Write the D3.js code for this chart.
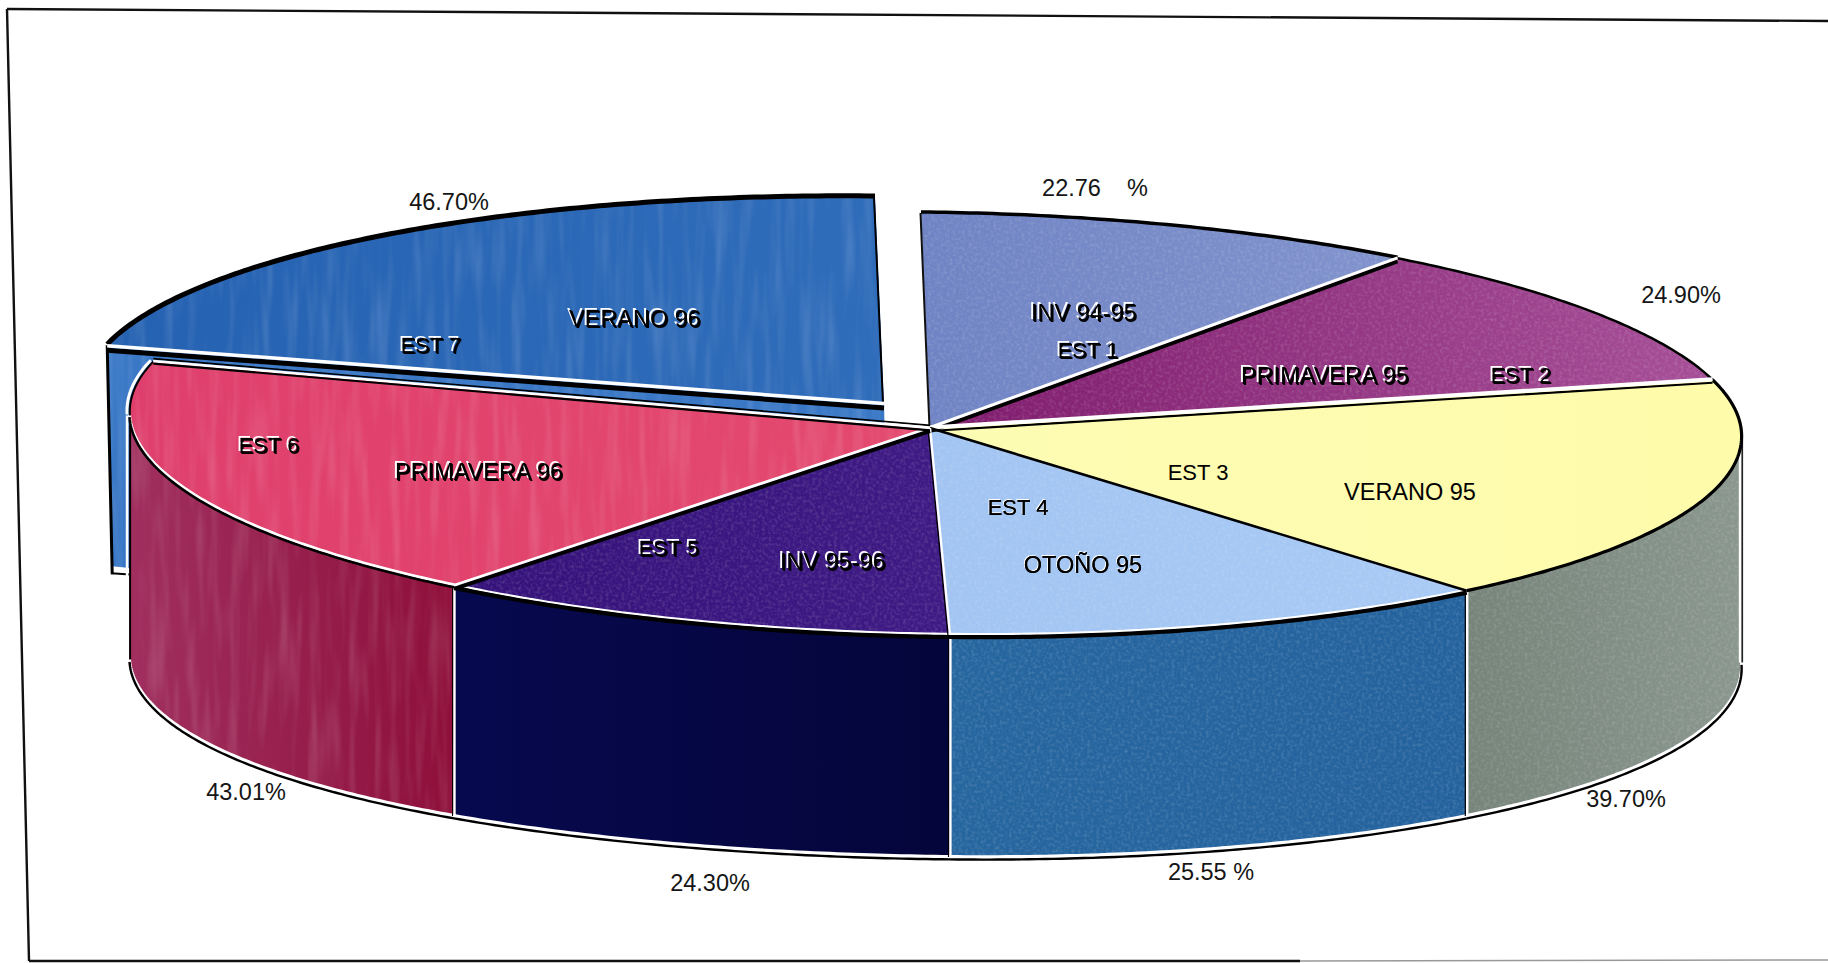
<!DOCTYPE html>
<html><head><meta charset="utf-8">
<script src="https://d3js.org/d3.v7.min.js"></script>
<style>
html,body{margin:0;padding:0;background:#fff;overflow:hidden}
svg{display:block}
text{font-family:"Liberation Sans",Arial,sans-serif}
</style></head><body>
<svg id="c" width="1828" height="963"></svg>
<script>
// ---------- data ----------
const seasons   = ["INV 94-95","PRIMAVERA 95","VERANO 95","OTOÑO 95","INV 95-96","PRIMAVERA 96","VERANO 96"];
const stations  = ["EST 1","EST 2","EST 3","EST 4","EST 5","EST 6","EST 7"];
const percents  = [22.76,24.90,39.70,25.55,24.30,43.01,46.70];
const percentLabels = ["22.76\u00A0\u00A0\u00A0\u00A0%","24.90%","39.70%","25.55 %","24.30%","43.01%","46.70%"];
// slice sizes as drawn in the reference (degrees of the ellipse)
const sliceSizes = [36,39.6,64.2,40.2,37.7,67.3,75];
const faceStart = ["#6f83c4","#7f1a6c","#fdfcb4","#a1c4f2","#34127a","#df3f6c","#2562b2"];
const faceEnd   = ["#8193cd","#a64f98","#fefbaa","#a8caf5","#3e1a84","#e4496f","#2f6cba"];
const wallStart = [null,null,"#76847a","#26669f","#07094f","#a02f5f","#3a78c6"];
const wallEnd   = [null,null,"#8a978f","#24629e","#04053a","#8e0f3a","#3a78c6"];
// label centres, in page pixels
const seasonPos  = [[1083,312],[1324,375],[1410,492],[1083,565],[832,561],[478,471],[634,318]];
const stationPos = [[1087,349],[1520,374],[1198,472],[1018,507],[668,547],[268,444],[430,344]];
const percentPos = [[1095,188],[1681,295],[1626,799],[1211,872],[710,883],[246,792],[449,202]];
const labelInk = ["emboss","emboss","plain","soft","emboss","emboss","emboss"];

// ---------- geometry ----------
const svg = d3.select("#c");
const defs = svg.append("defs");
const apex = [930,428];
const x = d3.scaleLinear().domain([-1,1]).range([129.5,1741.5]);   // ellipse wide axis
const y = d3.scaleLinear().domain([-1,1]).range([213,635]);        // ellipse short axis
const skewX = 14.5, skewY = 8.5, depth = 222;
const burst = [-46,-16];      // slice 7 is pulled out of the pie
const tipLift = 9, lean = 5;

const rim = a => [x(Math.sin(a)) - skewX*Math.cos(a), y(-Math.cos(a)) + skewY*Math.sin(a)];
const wallDepth = a => { const s=Math.sin(a); return depth + (s<0?22:8)*s*s; };
const foot = a => { const p=rim(a); return [p[0],p[1]+wallDepth(a)]; };
const arcs = d3.pie().sort(null).value(d=>d).startAngle(0).endAngle(2*Math.PI)(sliceSizes);
const line = d3.line();
const angles = (a0,a1) => { const n=Math.max(2,Math.ceil(Math.abs(a1-a0)/0.01)); return d3.range(n+1).map(i=>a0+(a1-a0)*i/n); };
const samples = (a0,a1) => angles(a0,a1).map(rim);
const feet = (a0,a1) => angles(a0,a1).map(foot);
const shift = (pts,dx,dy) => pts.map(p=>[p[0]+dx,p[1]+dy]);

// ---------- paint servers ----------
function grad(id,c0,c1,vertical){
  const g=defs.append("linearGradient").attr("id",id).attr("x1",0).attr("y1",0).attr("x2",vertical?0:1).attr("y2",vertical?1:0);
  g.append("stop").attr("offset",0).attr("stop-color",c0);
  g.append("stop").attr("offset",1).attr("stop-color",c1);
}
arcs.forEach((d,i)=>{
  grad("f"+i,faceStart[i],faceEnd[i]);
  if(wallStart[i]) grad("w"+i,wallStart[i],wallEnd[i]);
});
function grain(id,freq,alpha,seed){
  const f=defs.append("filter").attr("id",id).attr("filterUnits","userSpaceOnUse")
    .attr("x",0).attr("y",0).attr("width",1828).attr("height",963).attr("color-interpolation-filters","sRGB");
  f.append("feTurbulence").attr("type","fractalNoise").attr("baseFrequency",freq).attr("numOctaves",2).attr("seed",seed).attr("result","n");
  f.append("feColorMatrix").attr("in","n").attr("type","matrix")
    .attr("values",`0 0 0 0 1  0 0 0 0 1  0 0 0 0 1  ${alpha} 0 0 0 ${-alpha*0.42}`).attr("result","g");
  f.append("feComposite").attr("in","g").attr("in2","SourceAlpha").attr("operator","in").attr("result","gc");
  const m=f.append("feMerge");
  m.append("feMergeNode").attr("in","SourceGraphic");
  m.append("feMergeNode").attr("in","gc");
}
grain("speck","0.32",0.32,3);
grain("streak","0.1 0.01",0.28,8);
const faceFilter = ["speck","speck",null,"speck","speck","streak","streak"];
const wallFilter = [null,null,"speck","speck",null,"streak","streak"];

// embossed label: black shadow, white highlight, black letter on top
function emboss(id,layers){
  const f=defs.append("filter").attr("id",id).attr("x","-10%").attr("y","-30%").attr("width","120%").attr("height","160%")
    .attr("color-interpolation-filters","sRGB");
  f.append("feFlood").attr("flood-color","#000").attr("result","k");
  f.append("feFlood").attr("flood-color","#fff").attr("result","w");
  layers.forEach((l,i)=>{
    f.append("feOffset").attr("in","SourceAlpha").attr("dx",l[0]).attr("dy",l[1]).attr("result","a"+i);
    f.append("feComposite").attr("in",l[2]).attr("in2","a"+i).attr("operator","in").attr("result","b"+i);
  });
  const m=f.append("feMerge");
  layers.forEach((l,i)=>m.append("feMergeNode").attr("in","b"+i));
}
emboss("emboss",[[1.8,1.8,"k"],[-0.9,-0.9,"w"],[1,1,"k"]]);
emboss("soft",[[-1,-1,"w"],[0.4,0.4,"k"],[0,0,"k"]]);

// ---------- scanned page frame ----------
const frame=svg.append("g").attr("fill","none").attr("stroke","#111").attr("stroke-width",2.4);
frame.append("path").attr("d",line([[7,9],[1828,21]]));
frame.append("path").attr("d",line([[7,9],[29,961]]));
frame.append("path").attr("d",line([[29,961],[1300,961]]));
frame.append("path").attr("d",line([[1300,961],[1828,960]])).attr("stroke","#999").attr("stroke-width",1.5);

// stroke helper
function stroke(g,pts,w,col,dx=0,dy=0){
  g.append("path").attr("d",line(shift(pts,dx,dy))).attr("fill","none")
   .attr("stroke",col).attr("stroke-width",w).attr("stroke-linejoin","round").attr("stroke-linecap","butt");
}

// ---------- exploded slice 7 ----------
const last=arcs[6], gOut=svg.append("g").attr("transform",`translate(${burst})`);
const outTip=[apex[0],apex[1]-tipLift], outL=rim(last.startAngle), outR=rim(last.endAngle);
const outDepth=depth+3;
gOut.append("path").attr("d",line([outL,outTip,[outTip[0]+lean,outTip[1]+outDepth],[outL[0]+lean,outL[1]+outDepth]])+"Z")
  .attr("fill","url(#w6)").attr("filter","url(#streak)");
stroke(gOut,[[outL[0]+lean,outL[1]+outDepth-1],[outL[0]+34,outL[1]+outDepth+2]],6,"#fff");
stroke(gOut,[[outL[0]+lean-1,outL[1]+outDepth+3],[outL[0]+34,outL[1]+outDepth+5]],2,"#000");
stroke(gOut,[outL,[outL[0]+lean,outL[1]+outDepth+4]],3,"#000");
gOut.append("path").attr("d",line([outTip,...samples(last.startAngle,last.endAngle)])+"Z")
  .attr("fill","url(#f6)").attr("filter","url(#streak)");
stroke(gOut,samples(last.startAngle,last.endAngle),5,"#000",0,-1);
stroke(gOut,[outTip,outR],2,"#000",-1,0);
stroke(gOut,[outTip,outR],2,"#fff",1.5,0);
stroke(gOut,[outL,outTip],5,"#000",0,5);
stroke(gOut,[outL,outTip],3.5,"#fff",0,0.5);

// ---------- walls of the pie ----------
const gWall=svg.append("g");
const back=Math.PI/2, front=3*Math.PI/2;
const visible=arcs.slice(0,6).filter(d=>d.endAngle>back&&d.startAngle<front).map(d=>({d,a0:Math.max(d.startAngle,back),a1:Math.min(d.endAngle,front)}));
visible.forEach(v=>{
  gWall.append("path").attr("d",line([...samples(v.a0,v.a1),...feet(v.a0,v.a1).reverse()])+"Z").attr("fill",`url(#w${v.d.index})`)
    .attr("filter",wallFilter[v.d.index]?`url(#${wallFilter[v.d.index]})`:null);
});
visible.forEach(v=>{
  const bot=feet(v.a0,v.a1);
  stroke(gWall,bot,3,"#fff",0,-0.5);
  stroke(gWall,bot,2.4,"#000",0,2.4);
});
// wall dividers
visible.slice(1).forEach(v=>{
  const p=rim(v.a0), q=foot(v.a0);
  stroke(gWall,[p,q],1.2,"#000",-1.5,0);
  stroke(gWall,[p,q],2.4,"#fff",0.4,0);
});
// outer wall edges
const rightEdge=rim(back), leftEdge=rim(front), rightFoot=foot(back), leftFoot=foot(front);
stroke(gWall,[[rightEdge[0],rightEdge[1]+12],rightFoot],2.4,"#fff",-1.5,0);
stroke(gWall,[[rightEdge[0],rightEdge[1]+8],rightFoot],1.6,"#222",0.8,0);
stroke(gWall,[leftEdge,leftFoot],2.6,"#fff",-2.4,0);
stroke(gWall,[leftEdge,leftFoot],2,"#000",0.6,0);

// ---------- top faces ----------
const gFace=svg.append("g");
arcs.slice(0,6).forEach(d=>{
  gFace.append("path").attr("d",line([apex,...samples(d.startAngle,d.endAngle)])+"Z")
    .attr("fill",`url(#f${d.index})`).attr("filter",faceFilter[d.index]?`url(#${faceFilter[d.index]})`:null);
});
const gEdge=svg.append("g");
// rim arcs
stroke(gEdge,samples(arcs[0].startAngle,arcs[0].endAngle),3.5,"#000",0,-1);
stroke(gEdge,samples(arcs[1].startAngle,arcs[1].endAngle),2.5,"#000");
stroke(gEdge,samples(arcs[2].startAngle,arcs[2].endAngle),3.2,"#000");
[3,4].forEach(i=>{
  const s=samples(arcs[i].startAngle,arcs[i].endAngle);
  stroke(gEdge,s,2.4,"#fff",0,-1);
  stroke(gEdge,s,4.2,"#000",0,2);
});
const s6low=samples(arcs[5].startAngle,Math.PI*1.5), s6up=samples(Math.PI*1.5,arcs[5].endAngle);
stroke(gEdge,s6low,3,"#fff",0,-1);
stroke(gEdge,s6low,2.6,"#000",0,1.6);
stroke(gEdge,s6up,3,"#fff",-2.4,-1);
stroke(gEdge,s6up,2,"#000",0.4,0);
// radial edges
const at=i=>rim(arcs[i].startAngle);
stroke(gEdge,[apex,at(0)],2,"#111",-0.5,0);
stroke(gEdge,[apex,at(1)],4,"#000",0,3);
stroke(gEdge,[apex,at(1)],3,"#fff",0,-0.5);
stroke(gEdge,[apex,at(2)],2.2,"#000",0,3);
stroke(gEdge,[apex,at(2)],4,"#fff",0,-0.5);
stroke(gEdge,[apex,at(3)],2.6,"#000");
stroke(gEdge,[apex,at(4)],1.4,"#000",-2,0);
stroke(gEdge,[apex,at(4)],2.4,"#fff",0,0);
stroke(gEdge,[apex,at(5)],4,"#000",0,3);
stroke(gEdge,[apex,at(5)],2.8,"#fff",0,-0.5);
stroke(gEdge,[apex,at(6)],1.6,"#000",0,-2.6);
stroke(gEdge,[apex,at(6)],2.8,"#fff");
stroke(gEdge,[apex,at(6)],2.2,"#000",0,2.4);

// ---------- labels ----------
const gText=svg.append("g").attr("text-anchor","middle");
const inside=(t,p,i,size)=>gText.append("text").attr("x",p[0]).attr("y",p[1]+size*0.36).attr("font-size",size)
   .attr("fill","#000")
   .attr("filter",labelInk[i]==="plain"?null:`url(#${labelInk[i]})`).text(t);
seasons.forEach((t,i)=>inside(t,seasonPos[i],i,23.5));
stations.forEach((t,i)=>inside(t,stationPos[i],i,22));
percentLabels.forEach((t,i)=>gText.append("text").attr("x",percentPos[i][0]).attr("y",percentPos[i][1]+8)
   .attr("font-size",23.5).attr("fill","#151515").text(t));
</script>
</body></html>
